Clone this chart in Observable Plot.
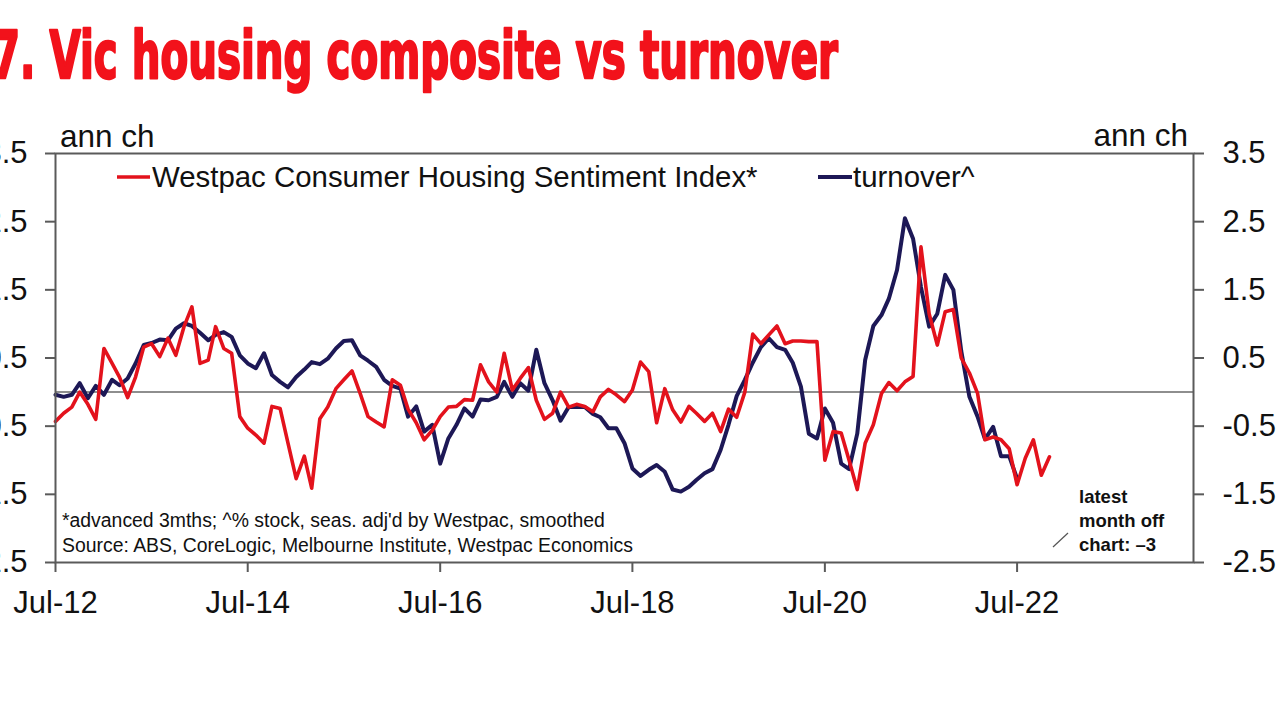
<!DOCTYPE html>
<html><head><meta charset="utf-8">
<script src="https://cdn.jsdelivr.net/npm/d3@7"></script>
<script src="https://cdn.jsdelivr.net/npm/@observablehq/plot@0.6"></script>
<style>
html,body{margin:0;padding:0;background:#fff;width:1280px;height:720px;overflow:hidden;}
#wrap{position:relative;width:1280px;height:720px;}
#wrap svg{position:absolute;left:0;top:0;}
</style></head><body><div id="wrap"></div>
<script>
// ---- data (monthly, starting Jul-2012) ----
const startMonth = "Jul-12";
// Westpac Consumer Housing Sentiment Index* (Vic composite, ann ch, advanced 3mths)
const composite = [
 -0.43,-0.31,-0.22,0.00,-0.18,-0.40,0.64,0.42,0.22,-0.08,0.22,0.66,
 0.71,0.52,0.79,0.54,0.96,1.25,0.42,0.47,0.96,0.64,0.57,-0.36,
 -0.53,-0.63,-0.75,-0.21,-0.24,-0.75,-1.27,-0.94,-1.41,-0.39,-0.22,0.05,
 0.18,0.31,-0.02,-0.36,-0.44,-0.51,0.18,0.10,-0.25,-0.45,-0.70,-0.56,
 -0.36,-0.22,-0.21,-0.11,-0.12,0.40,0.15,0.00,0.57,0.03,0.20,0.36,
 -0.12,-0.40,-0.31,0.00,-0.22,-0.18,-0.21,-0.29,-0.07,0.04,-0.04,-0.14,
 0.03,0.44,0.30,-0.45,0.05,-0.26,-0.44,-0.21,-0.31,-0.43,-0.31,-0.58,
 -0.25,-0.37,0.00,0.85,0.71,0.84,0.97,0.71,0.75,0.75,0.74,0.74,
 -1.00,-0.58,-0.60,-1.00,-1.43,-0.75,-0.48,-0.02,0.14,0.02,0.15,0.23,
 2.13,1.15,0.69,1.18,1.21,0.50,0.28,-0.02,-0.70,-0.66,-0.70,-0.83,
 -1.36,-0.97,-0.70,-1.22,-0.95
];
// turnover^ (% stock, seas. adj'd, smoothed, ann ch)
const turnover = [
 -0.04,-0.07,-0.04,0.13,-0.09,0.09,-0.04,0.18,0.10,0.20,0.42,0.69,
 0.72,0.77,0.76,0.93,1.01,0.97,0.87,0.76,0.84,0.88,0.81,0.54,
 0.42,0.35,0.57,0.25,0.15,0.07,0.22,0.33,0.44,0.41,0.49,0.64,
 0.75,0.76,0.54,0.46,0.37,0.18,0.09,0.05,-0.36,-0.21,-0.58,-0.48,
 -1.05,-0.68,-0.48,-0.24,-0.36,-0.11,-0.12,-0.07,0.15,-0.07,0.13,0.02,
 0.62,0.13,-0.12,-0.42,-0.22,-0.22,-0.22,-0.32,-0.37,-0.53,-0.53,-0.75,
 -1.12,-1.23,-1.14,-1.07,-1.17,-1.43,-1.46,-1.39,-1.29,-1.19,-1.13,-0.85,
 -0.48,-0.06,0.18,0.43,0.66,0.79,0.66,0.62,0.43,0.08,-0.61,-0.68,
 -0.24,-0.45,-1.05,-1.13,-0.61,0.47,0.97,1.13,1.37,1.79,2.55,2.25,
 1.54,0.96,1.15,1.72,1.50,0.60,-0.07,-0.36,-0.69,-0.51,-0.94,-0.94,
 -1.27
];
const xTickLabels = ["Jul-12","Jul-14","Jul-16","Jul-18","Jul-20","Jul-22"];
const xDomainLabels = ["Jul-12","May-24"];
const yTicks = [-2.5,-1.5,-0.5,0.5,1.5,2.5,3.5];
const seriesNames = ["Westpac Consumer Housing Sentiment Index*","turnover^"];
const colors = {red:"#e3121c", navy:"#1d1856"};

// ---- build ----
const parseM = d3.utcParse("%b-%y");
const fmtM = d3.utcFormat("%b-%y");
const t0 = parseM(startMonth);
const toRows = arr => arr.map((v,i)=>({date:d3.utcMonth.offset(t0,i), value:v}));
const compRows = toRows(composite);
const turnRows = toRows(turnover);

const axisStroke = "#5a5a5a";
const chart = Plot.plot({
  width:1280, height:640,
  marginTop:153, marginBottom:78, marginLeft:55, marginRight:87,
  x:{type:"utc", domain:xDomainLabels.map(parseM)},
  y:{domain:[-2.5,3.5]},
  style:{fontFamily:"'Liberation Sans', Arial, sans-serif", fontSize:"31px", color:"#111", background:"transparent", overflow:"hidden"},
  marks:[
    Plot.ruleY([0],{stroke:"#8e8e8e", strokeWidth:2}),
    Plot.line(turnRows,{x:"date", y:"value", stroke:colors.navy, strokeWidth:4, strokeLinejoin:"round"}),
    Plot.line(compRows,{x:"date", y:"value", stroke:colors.red, strokeWidth:3.6, strokeLinejoin:"round"}),
    Plot.frame({stroke:axisStroke, strokeWidth:2}),
    Plot.axisY(yTicks,{anchor:"left", tickSize:10, tickPadding:18, stroke:axisStroke, strokeWidth:2, tickFormat:d=>d.toFixed(1), label:null, fill:"#111"}),
    Plot.axisY(yTicks,{anchor:"right", tickSize:10, tickPadding:19, stroke:axisStroke, strokeWidth:2, tickFormat:d=>d.toFixed(1), label:null, fill:"#111"}),
    Plot.axisX(xTickLabels.map(parseM),{anchor:"bottom", tickSize:10, tickPadding:18, stroke:axisStroke, strokeWidth:2, tickFormat:fmtM, label:null, fill:"#111"})
  ]
});
document.getElementById("wrap").appendChild(chart);

// ---- overlay texts ----
const ov = d3.select("#wrap").append("svg").attr("width",1280).attr("height",720)
  .style("font-family","'Liberation Sans', Arial, sans-serif");

ov.append("text").text("7. Vic housing composite vs turnover")
  .attr("x",-8).attr("y",78)
  .attr("textLength",846).attr("lengthAdjust","spacingAndGlyphs")
  .style("font-family","'DejaVu Sans Condensed','Liberation Sans Narrow',sans-serif")
  .style("font-weight","bold").style("font-size","66px")
  .attr("fill","#f2121b").attr("stroke","#f2121b").attr("stroke-width",2.4)
  .attr("stroke-linejoin","round");

ov.append("text").text("ann ch").attr("x",60).attr("y",147).style("font-size","31.5px").attr("fill","#111");
ov.append("text").text("ann ch").attr("x",1188).attr("y",146).attr("text-anchor","end").style("font-size","31.5px").attr("fill","#111");

// legend
ov.append("line").attr("x1",117).attr("x2",150).attr("y1",177).attr("y2",177).attr("stroke",colors.red).attr("stroke-width",3.6);
ov.append("text").text(seriesNames[0]).attr("x",152).attr("y",187).style("font-size","29.4px").attr("fill","#111");
ov.append("line").attr("x1",818).attr("x2",852).attr("y1",177).attr("y2",177).attr("stroke",colors.navy).attr("stroke-width",4);
ov.append("text").text(seriesNames[1]).attr("x",853).attr("y",187).style("font-size","29.4px").attr("fill","#111");

// footnotes
ov.append("text").text("*advanced 3mths; ^% stock, seas. adj'd by Westpac, smoothed").attr("x",62).attr("y",527).style("font-size","19.4px").attr("fill","#111");
ov.append("text").text("Source: ABS, CoreLogic, Melbourne Institute, Westpac Economics").attr("x",62).attr("y",552).style("font-size","19.4px").attr("fill","#111");

// annotation
const ann = ["latest","month off","chart: \u20133"];
ann.forEach((s,i)=>ov.append("text").text(s).attr("x",1079).attr("y",503+i*24)
  .style("font-size","18.5px").style("font-weight","bold").attr("fill","#111"));
ov.append("line").attr("x1",1053).attr("y1",547).attr("x2",1068).attr("y2",533).attr("stroke","#555").attr("stroke-width",1.2);
</script>
</body></html>
